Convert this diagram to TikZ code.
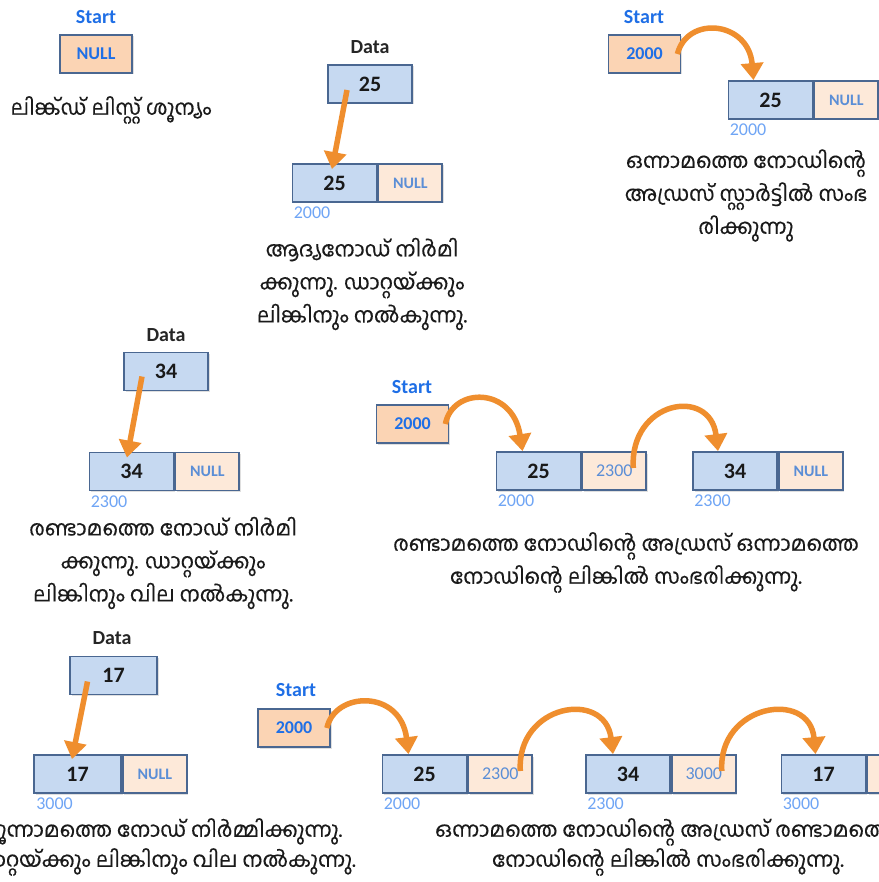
\documentclass[tikz,border=0pt]{standalone}
\usepackage{fontspec}
\setmainfont{Carlito}
\newfontfamily\mlfont[Script=Malayalam,FakeBold=0.35]{Hind Kochi}
\usetikzlibrary{arrows.meta,shadows}
\definecolor{databg}{HTML}{C6D9F1}
\definecolor{ptrbg}{HTML}{FDE9D9}
\definecolor{startbg}{HTML}{FBD4B4}
\definecolor{boxline}{HTML}{4A6791}
\definecolor{nulltxt}{HTML}{5B8ED6}
\definecolor{startlbl}{HTML}{1F6FE6}
\definecolor{addrtxt}{HTML}{6FA5F5}
\definecolor{arroworange}{HTML}{EF8E2E}
\definecolor{captxt}{HTML}{1A1A1A}
\tikzset{
  cellbase/.style={draw=boxline, line width=1.8pt, minimum height=38pt, inner sep=0pt,
    drop shadow={opacity=0.25, shadow xshift=1.5pt, shadow yshift=-1.5pt}},
  datacell/.style={cellbase, fill=databg, minimum width=84pt,
    font=\fontsize{22}{22}\selectfont\bfseries, text=black!90},
  ptrcell/.style={cellbase, fill=ptrbg, minimum width=64pt,
    font=\fontsize{16}{16}\selectfont\bfseries, text=nulltxt},
  ptraddr/.style={ptrcell, font=\fontsize{18}{18}\selectfont, text=nulltxt},
  startcell/.style={cellbase, fill=startbg, minimum width=72pt,
    font=\fontsize{18}{18}\selectfont\bfseries, text=startlbl},
  startlabel/.style={font=\fontsize{20}{20}\selectfont\bfseries, text=startlbl, inner sep=0pt},
  datalabel/.style={font=\fontsize{20}{20}\selectfont\bfseries, text=black!85, inner sep=0pt},
  addr/.style={font=\fontsize{18}{18}\selectfont, text=addrtxt, inner sep=0pt, anchor=north west},
  caption/.style={font=\mlfont\fontsize{21}{33}\selectfont, align=center, text=captxt, inner sep=0pt},
  link/.style={draw=arroworange, line width=5.5pt, -{Triangle[length=17pt,width=22pt]}},
}
\begin{document}
\begin{tikzpicture}[x=1pt,y=-1pt]
\useasboundingbox (0,0) rectangle (878,882);
\fill[white] (0,0) rectangle (878,882);

% ---------- Stage 1 ----------
\node[startlabel] (s1l) at (96,17) {Start};
\node[startcell] (s1) at (96,54) {NULL};
\node[caption] (c1) at (111,110) {ലിങ്ക്ഡ് ലിസ്റ്റ് ശൂന്യം};

% ---------- Stage 2 ----------
\node[datalabel] (d2l) at (370,47) {Data};
\node[datacell] (d2) at (370,84) {25};
\node[datacell] (n2d) at (334.5,183) {25};
\node[ptrcell, anchor=west] (n2p) at (n2d.east) {NULL};
\node[addr] (a2) at ([xshift=2pt,yshift=-4pt]n2d.south west) {2000};
\draw[link] ([xshift=-23pt,yshift=-6pt]d2.center) -- ([xshift=-2.5pt,yshift=-6pt]n2d.north);
\node[caption] (c2) at (362,284) {ആദ്യനോഡ് നിർമി\\ക്കുന്നു. ഡാറ്റയ്ക്കും\\ലിങ്കിനും നൽകുന്നു.};

% ---------- Stage 3 ----------
\node[startlabel] (s3l) at (644,17) {Start};
\node[startcell] (s3) at (644.5,54) {2000};
\node[datacell] (n3d) at (770.5,100) {25};
\node[ptrcell, anchor=west] (n3p) at (n3d.east) {NULL};
\node[addr] (a3) at ([xshift=2pt,yshift=-4pt]n3d.south west) {2000};
\draw[link] ([xshift=-4pt]s3.east) .. controls +(10,-39) and +(-5,-59) .. ([xshift=-17pt]n3d.north);
\node[caption] (c3) at (746,195.5) {ഒന്നാമത്തെ നോഡിന്റെ\\അഡ്രസ് സ്റ്റാർട്ടിൽ സംഭ\\രിക്കുന്നു};

% ---------- Stage 4 ----------
\node[datalabel] (d4l) at (166,335) {Data};
\node[datacell] (d4) at (166,371.5) {34};
\node[datacell] (n4d) at (131.5,471.5) {34};
\node[ptrcell, anchor=west] (n4p) at (n4d.east) {NULL};
\node[addr] (a4) at ([xshift=2pt,yshift=-4pt]n4d.south west) {2300};
\draw[link] ([xshift=-24pt,yshift=-5pt]d4.center) -- ([xshift=-4.5pt,yshift=-6pt]n4d.north);
\node[caption] (c4) at (163,563) {രണ്ടാമത്തെ നോഡ് നിർമി\\ക്കുന്നു. ഡാറ്റയ്ക്കും\\ലിങ്കിനും വില നൽകുന്നു.};

% ---------- Stage 5 ----------
\node[startlabel] (s5l) at (412,387) {Start};
\node[startcell] (s5) at (412.5,424) {2000};
\node[datacell] (n5ad) at (538.5,471) {25};
\node[ptraddr, anchor=west] (n5ap) at (n5ad.east) {2300};
\node[addr] (a5a) at ([xshift=2pt,yshift=-4pt]n5ad.south west) {2000};
\node[datacell] (n5bd) at (735,471) {34};
\node[ptrcell, anchor=west] (n5bp) at (n5bd.east) {NULL};
\node[addr] (a5b) at ([xshift=2pt,yshift=-4pt]n5bd.south west) {2300};
\draw[link] ([xshift=-4pt]s5.east) .. controls +(7,-37) and +(-10,-65) .. ([xshift=-16pt]n5ad.north);
\draw[link] ([xshift=19pt,yshift=3pt]n5ap.center) .. controls +(-4,-67) and +(-8,-65) .. ([xshift=-17pt]n5bd.north);
\node[caption] (c5) at (626,562.5) {രണ്ടാമത്തെ നോഡിന്റെ അഡ്രസ് ഒന്നാമത്തെ\\നോഡിന്റെ ലിങ്കിൽ സംഭരിക്കുന്നു.};

% ---------- Stage 6 ----------
\node[datalabel] (d6l) at (112,638) {Data};
\node[datacell, minimum width=87pt] (d6) at (113.5,675.5) {17};
\node[datacell, minimum width=87pt] (n6d) at (77.5,774) {17};
\node[ptrcell, anchor=west] (n6p) at (n6d.east) {NULL};
\node[addr] (a6) at ([xshift=3pt,yshift=-4pt]n6d.south west) {3000};
\draw[link] ([xshift=-26pt,yshift=-6pt]d6.center) -- ([xshift=-5.5pt,yshift=-5pt]n6d.north);
\node[caption] (c6) at (163,847) {മൂന്നാമത്തെ നോഡ് നിർമ്മിക്കുന്നു.\\[-3pt]ഡാറ്റയ്ക്കും ലിങ്കിനും വില നൽകുന്നു.};

% ---------- Stage 7 ----------
\node[startlabel] (s7l) at (296,690) {Start};
\node[startcell] (s7) at (294,728) {2000};
\node[datacell] (n7ad) at (424.5,774) {25};
\node[ptraddr, anchor=west] (n7ap) at (n7ad.east) {2300};
\node[addr] (a7a) at ([xshift=2pt,yshift=-4pt]n7ad.south west) {2000};
\node[datacell] (n7bd) at (628,774) {34};
\node[ptraddr, anchor=west] (n7bp) at (n7bd.east) {3000};
\node[addr] (a7b) at ([xshift=2pt,yshift=-4pt]n7bd.south west) {2300};
\node[datacell] (n7cd) at (823.5,774) {17};
\node[ptrcell, anchor=west] (n7cp) at (n7cd.east) {};
\node[addr] (a7c) at ([xshift=2pt,yshift=-4pt]n7cd.south west) {3000};
\draw[link] ([xshift=-4pt]s7.east) .. controls +(8,-37) and +(-8,-65) .. ([xshift=-16pt]n7ad.north);
\draw[link] ([xshift=20pt,yshift=3pt]n7ap.center) .. controls +(-4,-67) and +(-8,-65) .. ([xshift=-15pt]n7bd.north);
\draw[link] ([xshift=18pt,yshift=3pt]n7bp.center) .. controls +(-4,-67) and +(-6,-65) .. ([xshift=-8pt]n7cd.north);
\node[caption] (c7) at (668,847) {ഒന്നാമത്തെ നോഡിന്റെ അഡ്രസ് രണ്ടാമത്തെ\\[-3pt]നോഡിന്റെ ലിങ്കിൽ സംഭരിക്കുന്നു.};
\end{tikzpicture}
\end{document}
